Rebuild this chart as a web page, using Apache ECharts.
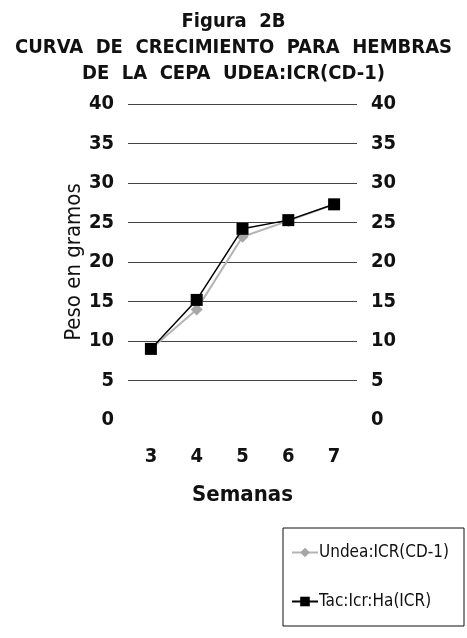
<!DOCTYPE html>
<html>
<head>
<meta charset="utf-8">
<script src="https://cdn.jsdelivr.net/npm/echarts@6/dist/echarts.min.js"></script>
<style>
  html, body { margin: 0; padding: 0; background: #fff; }
  #chart { width: 467px; height: 638px; }
</style>
</head>
<body>
<div id="chart"></div>
<script>
// semanas y peso promedio (g)
const semanas = ['3', '4', '5', '6', '7'];
const undea = [9.0, 14.0, 23.2, 25.2, 27.3];
const tac = [9.0, 15.2, 24.2, 25.3, 27.3];
const yMin = 0, yMax = 40, yStep = 5;

const font = '"DejaVu Sans Condensed", "Liberation Sans Narrow", "Liberation Sans", Arial, sans-serif';

const chart = echarts.init(document.getElementById('chart'));

const yAxisBase = {
  type: 'value',
  min: yMin, max: yMax, interval: yStep,
  axisLine: { show: false },
  axisTick: { show: false },
  axisLabel: { color: '#111', fontFamily: font, fontWeight: 'bold', fontSize: 20, margin: 14 }
};

chart.setOption({
  backgroundColor: '#fff',
  animation: false,
  title: {
    text: 'Figura  2B\nCURVA  DE  CRECIMIENTO  PARA  HEMBRAS\nDE  LA  CEPA  UDEA:ICR(CD-1)',
    left: 'center', top: 4,
    textStyle: { fontFamily: font, fontWeight: 'bold', fontSize: 20, color: '#111', lineHeight: 26 }
  },
  grid: { left: 128, right: 110, top: 104, bottom: 218 },
  legend: {
    orient: 'vertical',
    left: 283, top: 528,
    padding: [16, 15, 16, 8],
    itemGap: 32,
    itemWidth: 26, itemHeight: 12,
    borderColor: '#111', borderWidth: 1,
    textStyle: { fontFamily: font, fontSize: 17, color: '#111', padding: [0, 0, 0, -4] },
    data: ['Undea:ICR(CD-1)', 'Tac:Icr:Ha(ICR)']
  },
  xAxis: {
    type: 'category',
    data: semanas,
    boundaryGap: true,
    axisLine: { show: false },
    axisTick: { show: false },
    axisLabel: { color: '#111', fontFamily: font, fontWeight: 'bold', fontSize: 20, margin: 27 },
    name: 'Semanas',
    nameLocation: 'middle',
    nameGap: 64,
    nameTextStyle: { color: '#111', fontFamily: font, fontWeight: 'bold', fontSize: 22 }
  },
  yAxis: [
    Object.assign({}, yAxisBase, {
      position: 'left',
      name: 'Peso en gramos',
      nameLocation: 'middle',
      nameGap: 42,
      nameTextStyle: { color: '#111', fontFamily: font, fontSize: 22 },
      splitLine: { show: true, showMinLine: false, lineStyle: { color: '#444', width: 1 } }
    }),
    Object.assign({}, yAxisBase, {
      position: 'right',
      splitLine: { show: false }
    })
  ],
  series: [
    {
      name: 'Undea:ICR(CD-1)',
      type: 'line',
      data: undea,
      symbol: 'diamond',
      symbolSize: 12,
      color: '#a6a6a6',
      lineStyle: { color: '#b4b4b4', width: 2 },
      itemStyle: { color: '#a6a6a6' },
      z: 2
    },
    {
      name: 'Tac:Icr:Ha(ICR)',
      type: 'line',
      data: tac,
      symbol: 'rect',
      symbolSize: 12,
      color: '#000',
      lineStyle: { color: '#000', width: 1.5 },
      itemStyle: { color: '#000' },
      z: 3
    }
  ]
});
</script>
</body>
</html>
